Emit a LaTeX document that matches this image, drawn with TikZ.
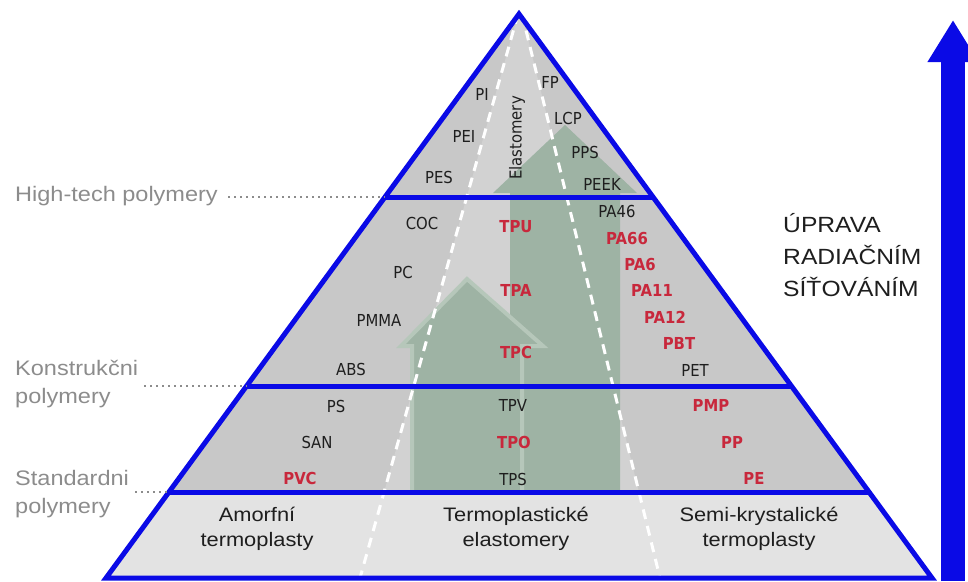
\documentclass[tikz,border=0pt]{standalone}
\usepackage{fontspec}
\setmainfont{Liberation Sans}
\newfontfamily\labelfont[FakeStretch=1.12]{Liberation Sans}
\newfontfamily\tagfont[FakeStretch=0.9]{DejaVu Sans}
\usetikzlibrary{arrows.meta,calc}
\definecolor{pyrblue}{HTML}{0A0AE6}
\definecolor{bandgray}{HTML}{C8C8C8}
\definecolor{midgray}{HTML}{D2D2D2}
\definecolor{basegray}{HTML}{E3E3E3}
\definecolor{arrowgreen}{HTML}{9EB3A4}
\definecolor{arrowrim}{HTML}{B6C7BA}
\definecolor{tagdark}{HTML}{1E1E1E}
\definecolor{tagred}{HTML}{C8283C}
\definecolor{levelgray}{HTML}{8C8C8C}
\tikzset{
  tag/.style={font=\tagfont\fontsize{16.5}{18}\selectfont,text=tagdark,inner sep=0pt},
  redtag/.style={font=\tagfont\bfseries\fontsize{16.5}{18}\selectfont,text=tagred,inner sep=0pt},
  tier/.style={font=\labelfont\fontsize{21}{28}\selectfont,text=levelgray,align=left,anchor=west,inner sep=0pt},
  kind/.style={font=\labelfont\fontsize{19.5}{25}\selectfont,text=tagdark,align=center,inner sep=0pt},
  note/.style={font=\labelfont\fontsize{22}{32}\selectfont,text=tagdark,align=left,anchor=west,inner sep=0pt},
  rim/.style={draw=pyrblue,line width=5pt},
  guide/.style={draw=levelgray,line width=1.5pt,dash pattern=on 1.5pt off 4.5pt},
  divider/.style={draw=white,line width=3pt,dash pattern=on 10pt off 7pt},
  lift/.style={fill=arrowgreen},
  liftrim/.style={draw=arrowrim,fill=arrowgreen,line width=4pt},
  boost/.style={draw=pyrblue,line width=24pt,-{Triangle[length=42pt,width=48pt]}}
}
\begin{document}
\begin{tikzpicture}[x=1pt,y=-1pt]
\useasboundingbox (0,0) rectangle (968,581);
% pyramid corners and band edges
\coordinate (apex) at (519,14);
\coordinate (bl) at (106,578);
\coordinate (br) at (932,578);
\coordinate (htl) at ($(apex)!0.3245!(bl)$);
\coordinate (htr) at ($(apex)!0.3245!(br)$);
\coordinate (kl) at ($(apex)!0.6596!(bl)$);
\coordinate (kr) at ($(apex)!0.6596!(br)$);
\coordinate (sl) at ($(apex)!0.8475!(bl)$);
\coordinate (sr) at ($(apex)!0.8475!(br)$);

\begin{scope}
\clip (apex) -- (bl) -- (br) -- cycle;
\fill[bandgray] (apex) -- (bl) -- (br) -- cycle;
\fill[midgray] (518,14) -- (360,578) -- (660,578) -- (522,14) -- cycle;
\path[lift] (510,492) -- (510,193) -- (493,193) -- (565,125) -- (637,193) -- (620,193) -- (620,492) -- cycle;
\path[liftrim] (412,494) -- (412,346) -- (401,346) -- (467,279) -- (543,346) -- (522,346) -- (522,494) -- cycle;
\fill[basegray] (0,492) rectangle (968,581);
\draw[divider] (518,14) -- (360,578);
\draw[divider] (522,14) -- (660,578);
\end{scope}

\draw[rim,line join=miter] (apex) -- (bl) -- (br) -- cycle;
\draw[rim] (htl) -- (htr);
\draw[rim] (kl) -- (kr);
\draw[rim] (sl) -- (sr);

% high-tech band
\node[tag] (pi) at (482,94) {PI};
\node[tag] (pei) at (464,136) {PEI};
\node[tag] (pes) at (439,177) {PES};
\node[tag,rotate=90] (elast) at (517,138) {Elastomery};
\node[tag] (fp) at (550,82) {FP};
\node[tag] (lcp) at (568,118) {LCP};
\node[tag] (pps) at (585,152) {PPS};
\node[tag] (peek) at (602,184) {PEEK};

% engineering band
\node[tag] (coc) at (422,223) {COC};
\node[tag] (pc) at (403,272) {PC};
\node[tag] (pmma) at (379,320) {PMMA};
\node[tag] (abs) at (351,369) {ABS};
\node[redtag] (tpu) at (516,227) {TPU};
\node[redtag] (tpa) at (516,290) {TPA};
\node[redtag] (tpc) at (516,352) {TPC};
\node[tag] (pa46) at (617,211) {PA46};
\node[redtag] (pa66) at (627,238) {PA66};
\node[redtag] (pa6) at (640,264) {PA6};
\node[redtag] (pa11) at (652,290) {PA11};
\node[redtag] (pa12) at (665,317) {PA12};
\node[redtag] (pbt) at (679,343) {PBT};
\node[tag] (pet) at (695,370) {PET};

% standard band
\node[tag] (ps) at (336,406) {PS};
\node[tag] (san) at (317,442) {SAN};
\node[redtag] (pvc) at (300,478) {PVC};
\node[tag] (tpv) at (513,405) {TPV};
\node[redtag] (tpo) at (514,442) {TPO};
\node[tag] (tps) at (513,479) {TPS};
\node[redtag] (pmp) at (711,405) {PMP};
\node[redtag] (pp) at (732,442) {PP};
\node[redtag] (pe) at (754,478) {PE};

% base band
\node[kind] (amorf) at (257,529) {Amorfní\\termoplasty};
\node[kind] (tpe) at (516,529) {Termoplastické\\elastomery};
\node[kind] (semi) at (759,529) {Semi-krystalické\\termoplasty};

% level names on the left
\node[tier] (hightech) at (15,196.5) {High-tech polymery};
\node[tier] (konstr) at (15,384) {Konstrukčni\\polymery};
\node[tier] (standard) at (15,494) {Standardni\\polymery};
\draw[guide,shorten <=10pt] (hightech.east |- htl) -- (htl);
\draw[guide,shorten <=6pt] (konstr.east |- kl) -- (kl);
\draw[guide,shorten <=6pt] (standard.east |- sl) -- (sl);

% radiation crosslinking
\node[note] (uprava) at (783,255) {ÚPRAVA\\RADIAČNÍM\\SÍŤOVÁNÍM};
\coordinate (liftbot) at (953,581);
\coordinate (lifttop) at (953,20);
\draw[boost] (liftbot) -- (lifttop);
\end{tikzpicture}
\end{document}
